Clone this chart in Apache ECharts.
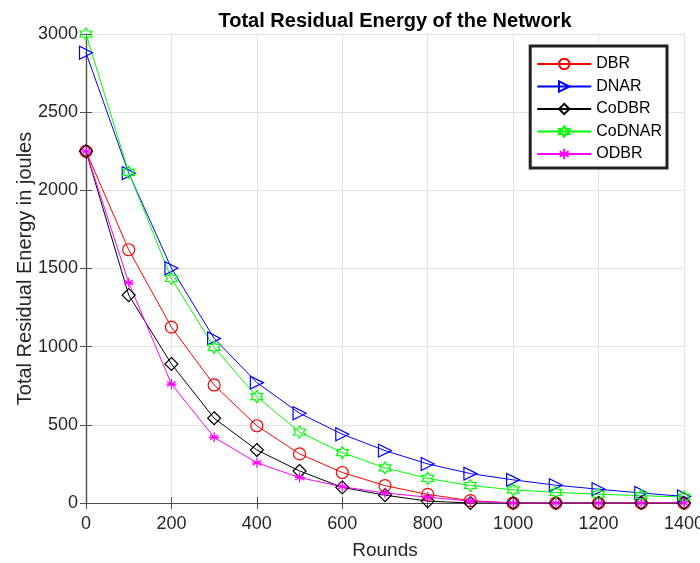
<!DOCTYPE html>
<html>
<head>
<meta charset="utf-8">
<script src="https://cdn.jsdelivr.net/npm/echarts@6/dist/echarts.min.js"></script>
<style>
  html, body { margin: 0; padding: 0; background: #fff; }
  #chart { width: 700px; height: 563px; }
</style>
</head>
<body>
<div id="chart"></div>
<script>
'use strict';

// rounds on the x axis
var rounds = [0, 100, 200, 300, 400, 500, 600, 700, 800, 900, 1000, 1100, 1200, 1300, 1400];

// residual energy (joules)
var dbr    = [2250, 1620, 1125, 755, 494, 314, 195, 111, 55, 15, 0, 0, 0, 0, 0];
var dnar   = [2880, 2110, 1502, 1053, 770, 574, 440, 335, 250, 188, 148, 114, 88, 64, 42];
var codbr  = [2250, 1330, 889, 542, 339, 205, 100, 50, 12, 0, 0, 0, 0, 0, 0];
var codnar = [3000, 2115, 1436, 995, 680, 454, 322, 225, 157, 112, 84, 68, 56, 47, 38];
var odbr   = [2250, 1410, 761, 420, 257, 163, 104, 64, 37, 12, 0, 0, 0, 0, 0];

var seriesNames = ['DBR', 'DNAR', 'CoDBR', 'CoDNAR', 'ODBR'];

// six pointed star outline
function hexagramPath() {
  var pts = [];
  for (var i = 0; i < 12; i++) {
    var a = (90 + i * 30) * Math.PI / 180;
    var r = i % 2 === 0 ? 1 : 0.577;
    pts.push((r * Math.cos(a)).toFixed(3) + ',' + (-r * Math.sin(a)).toFixed(3));
  }
  return 'path://M' + pts.join(' L') + ' Z';
}
var asterisk = 'path://M0,-1 L0,1 M-0.866,-0.5 L0.866,0.5 M-0.866,0.5 L0.866,-0.5 M-1,0 L1,0';

function mk(name, data, color, symbol, size, rotate) {
  return {
    name: name,
    type: 'line',
    data: rounds.map(function (r, i) { return [r, data[i]]; }),
    symbol: symbol,
    symbolSize: size,
    symbolRotate: rotate || 0,
    showAllSymbol: true,
    color: color,
    lineStyle: { color: color, width: 1 },
    itemStyle: { color: 'rgba(0,0,0,0)', borderColor: color, borderWidth: 1.2 },
    emphasis: { disabled: true },
    z: 2
  };
}

function plain(v) { return String(v); }

var chart = echarts.init(document.getElementById('chart'));
var axisCol = '#4d4d4d';
var font = 'Liberation Sans, Arial, Helvetica, sans-serif';

var option = {
  animation: false,
  textStyle: { fontFamily: font },
  title: {
    text: 'Total Residual Energy of the Network',
    left: 390, top: 6, textAlign: 'center',
    textStyle: { fontSize: 20, fontWeight: 'bold', color: '#000', fontFamily: font }
  },
  grid: { left: 86, right: 16, top: 34, bottom: 60, outerBoundsMode: 'none', containLabel: false },
  legend: {
    data: seriesNames,
    orient: 'vertical',
    right: 33, top: 46,
    itemWidth: 54, itemHeight: 13, itemGap: 6.5,
    padding: [10, 5, 6, 6],
    borderColor: '#222', borderWidth: 3,
    backgroundColor: '#fff',
    textStyle: { fontSize: 16, color: '#000', fontFamily: font }
  },
  xAxis: [{
    type: 'value', min: 0, max: 1400, interval: 200,
    name: 'Rounds', nameLocation: 'middle', nameGap: 38, nameMoveOverlap: false,
    nameTextStyle: { fontSize: 19, color: '#262626' },
    axisLine: { show: true, onZero: false, lineStyle: { color: axisCol, width: 1.2 } },
    axisTick: { show: true, inside: true, length: 6, lineStyle: { color: axisCol } },
    axisLabel: { fontSize: 18, color: '#262626', margin: 12, formatter: plain },
    splitLine: { show: true, lineStyle: { color: '#e3e3e3', width: 1 } }
  }, {
    type: 'value', min: 0, max: 1400, interval: 200, position: 'top',
    axisLine: { show: true, lineStyle: { color: axisCol, width: 1.2 } },
    axisTick: { show: true, inside: true, length: 6, lineStyle: { color: axisCol } },
    axisLabel: { show: false }, splitLine: { show: false }
  }],
  yAxis: [{
    type: 'value', min: 0, max: 3000, interval: 500,
    name: 'Total Residual Energy in joules', nameLocation: 'middle', nameGap: 51, nameMoveOverlap: false,
    nameTextStyle: { fontSize: 20, color: '#262626' },
    axisLine: { show: true, onZero: false, lineStyle: { color: axisCol, width: 1.2 } },
    axisTick: { show: true, inside: true, length: 6, lineStyle: { color: axisCol } },
    axisLabel: { fontSize: 18, color: '#262626', margin: 8, formatter: plain },
    splitLine: { show: true, lineStyle: { color: '#e3e3e3', width: 1 } }
  }, {
    type: 'value', min: 0, max: 3000, interval: 500, position: 'right',
    axisLine: { show: true, lineStyle: { color: axisCol, width: 1.2 } },
    axisTick: { show: true, inside: true, length: 6, lineStyle: { color: axisCol } },
    axisLabel: { show: false }, splitLine: { show: false }
  }],
  series: [
    mk('DBR', dbr, '#ff0000', 'circle', 12),
    mk('DNAR', dnar, '#0000ff', 'triangle', 13, -90),
    mk('CoDBR', codbr, '#000000', 'diamond', 13),
    mk('CoDNAR', codnar, '#00ff00', hexagramPath(), 12),
    mk('ODBR', odbr, '#ff00ff', asterisk, 10)
  ]
};

chart.setOption(option);
</script>
</body>
</html>
